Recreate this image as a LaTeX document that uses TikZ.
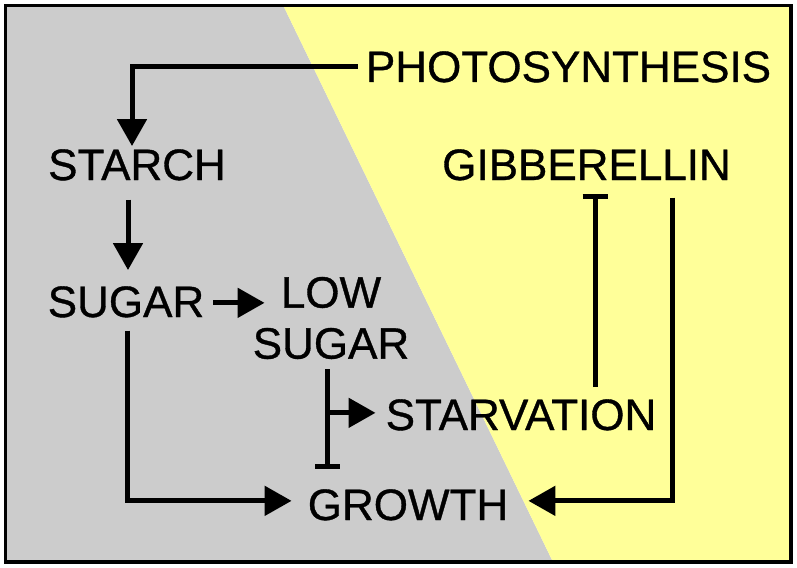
\documentclass[tikz,border=0pt]{standalone}
\usepackage{fontspec}
\newfontfamily\lblfont[FakeBold=0.8]{Liberation Sans}
\usetikzlibrary{arrows.meta,calc}
\definecolor{bggray}{HTML}{CCCCCC}
\definecolor{bgyellow}{HTML}{FFFF99}
\tikzset{
  lbl/.style={inner sep=0pt,anchor=base,font=\lblfont\fontsize{44}{51}\selectfont},
  act/.style={line width=5pt,-{Triangle[length=27pt,width=29pt]}},
  inh/.style={line width=5pt,-{Bar[width=25pt]}},
}
\begin{document}
\begin{tikzpicture}[x=1pt,y=-1pt]
\useasboundingbox (0,0) rectangle (797,567);
\fill[bggray] (5,5) -- (283,5) -- (553,562) -- (5,562) -- cycle;
\fill[bgyellow] (283,5) -- (791,5) -- (791,562) -- (553,562) -- cycle;
\draw[line width=3.5pt] (5.5,5.5) rectangle (791,562);

\node[lbl] (photo) at (568.5,82) {PHOTOSYNTHESIS};
\node[lbl] (starch) at (137,180) {STARCH};
\node[lbl] (gib) at (586.5,180) {GIBBERELLIN};
\node[lbl] (sugar) at (126,317) {SUGAR};
\node[lbl,align=center,anchor=center] (low) at (331,318) {LOW\\SUGAR};
\node[lbl] (starv) at (521,430) {STARVATION};
\node[lbl] (growth) at (408,520) {GROWTH};

% photosynthesis -> starch
\draw[act] ($(photo.west)+(-8,0)$) -| ($(starch.north)+(-5,-3)$);
% starch -> sugar
\draw[act] ($(starch.south)+(-9,19)$) -- ($(sugar.north)+(2,-16)$);
% sugar -> low sugar
\coordinate (ls) at ($(low.west)+(12,0)$);
\coordinate (s0) at ($(sugar.east)+(9,1)$);
\draw[act] (s0) -- (s0 -| ls);
% sugar -> growth
\draw[act] ($(sugar.south)+(1,13)$) |- ($(growth.west)+(-16,-4)$);
% low sugar -| growth
\coordinate (j) at ($(low.south)+(-4,10)$);
\coordinate (gt) at ($(growth.north)+(0,-20)$);
\draw[inh] (j) -- (j |- gt);
% branch -> starvation
\coordinate (sw) at ($(starv.west)+(-10,-2)$);
\draw[act] (j |- sw) -- (sw);
% starvation -| gibberellin
\coordinate (gb) at ($(gib.south)+(8.5,13)$);
\coordinate (st) at ($(starv.north)+(0,-12)$);
\draw[inh] (gb |- st) -- (gb);
% gibberellin -> growth
\coordinate (gd) at ($(gib.south)+(85.5,17)$);
\draw[act] (gd) |- ($(growth.east)+(20,-4)$);
\end{tikzpicture}
\end{document}
